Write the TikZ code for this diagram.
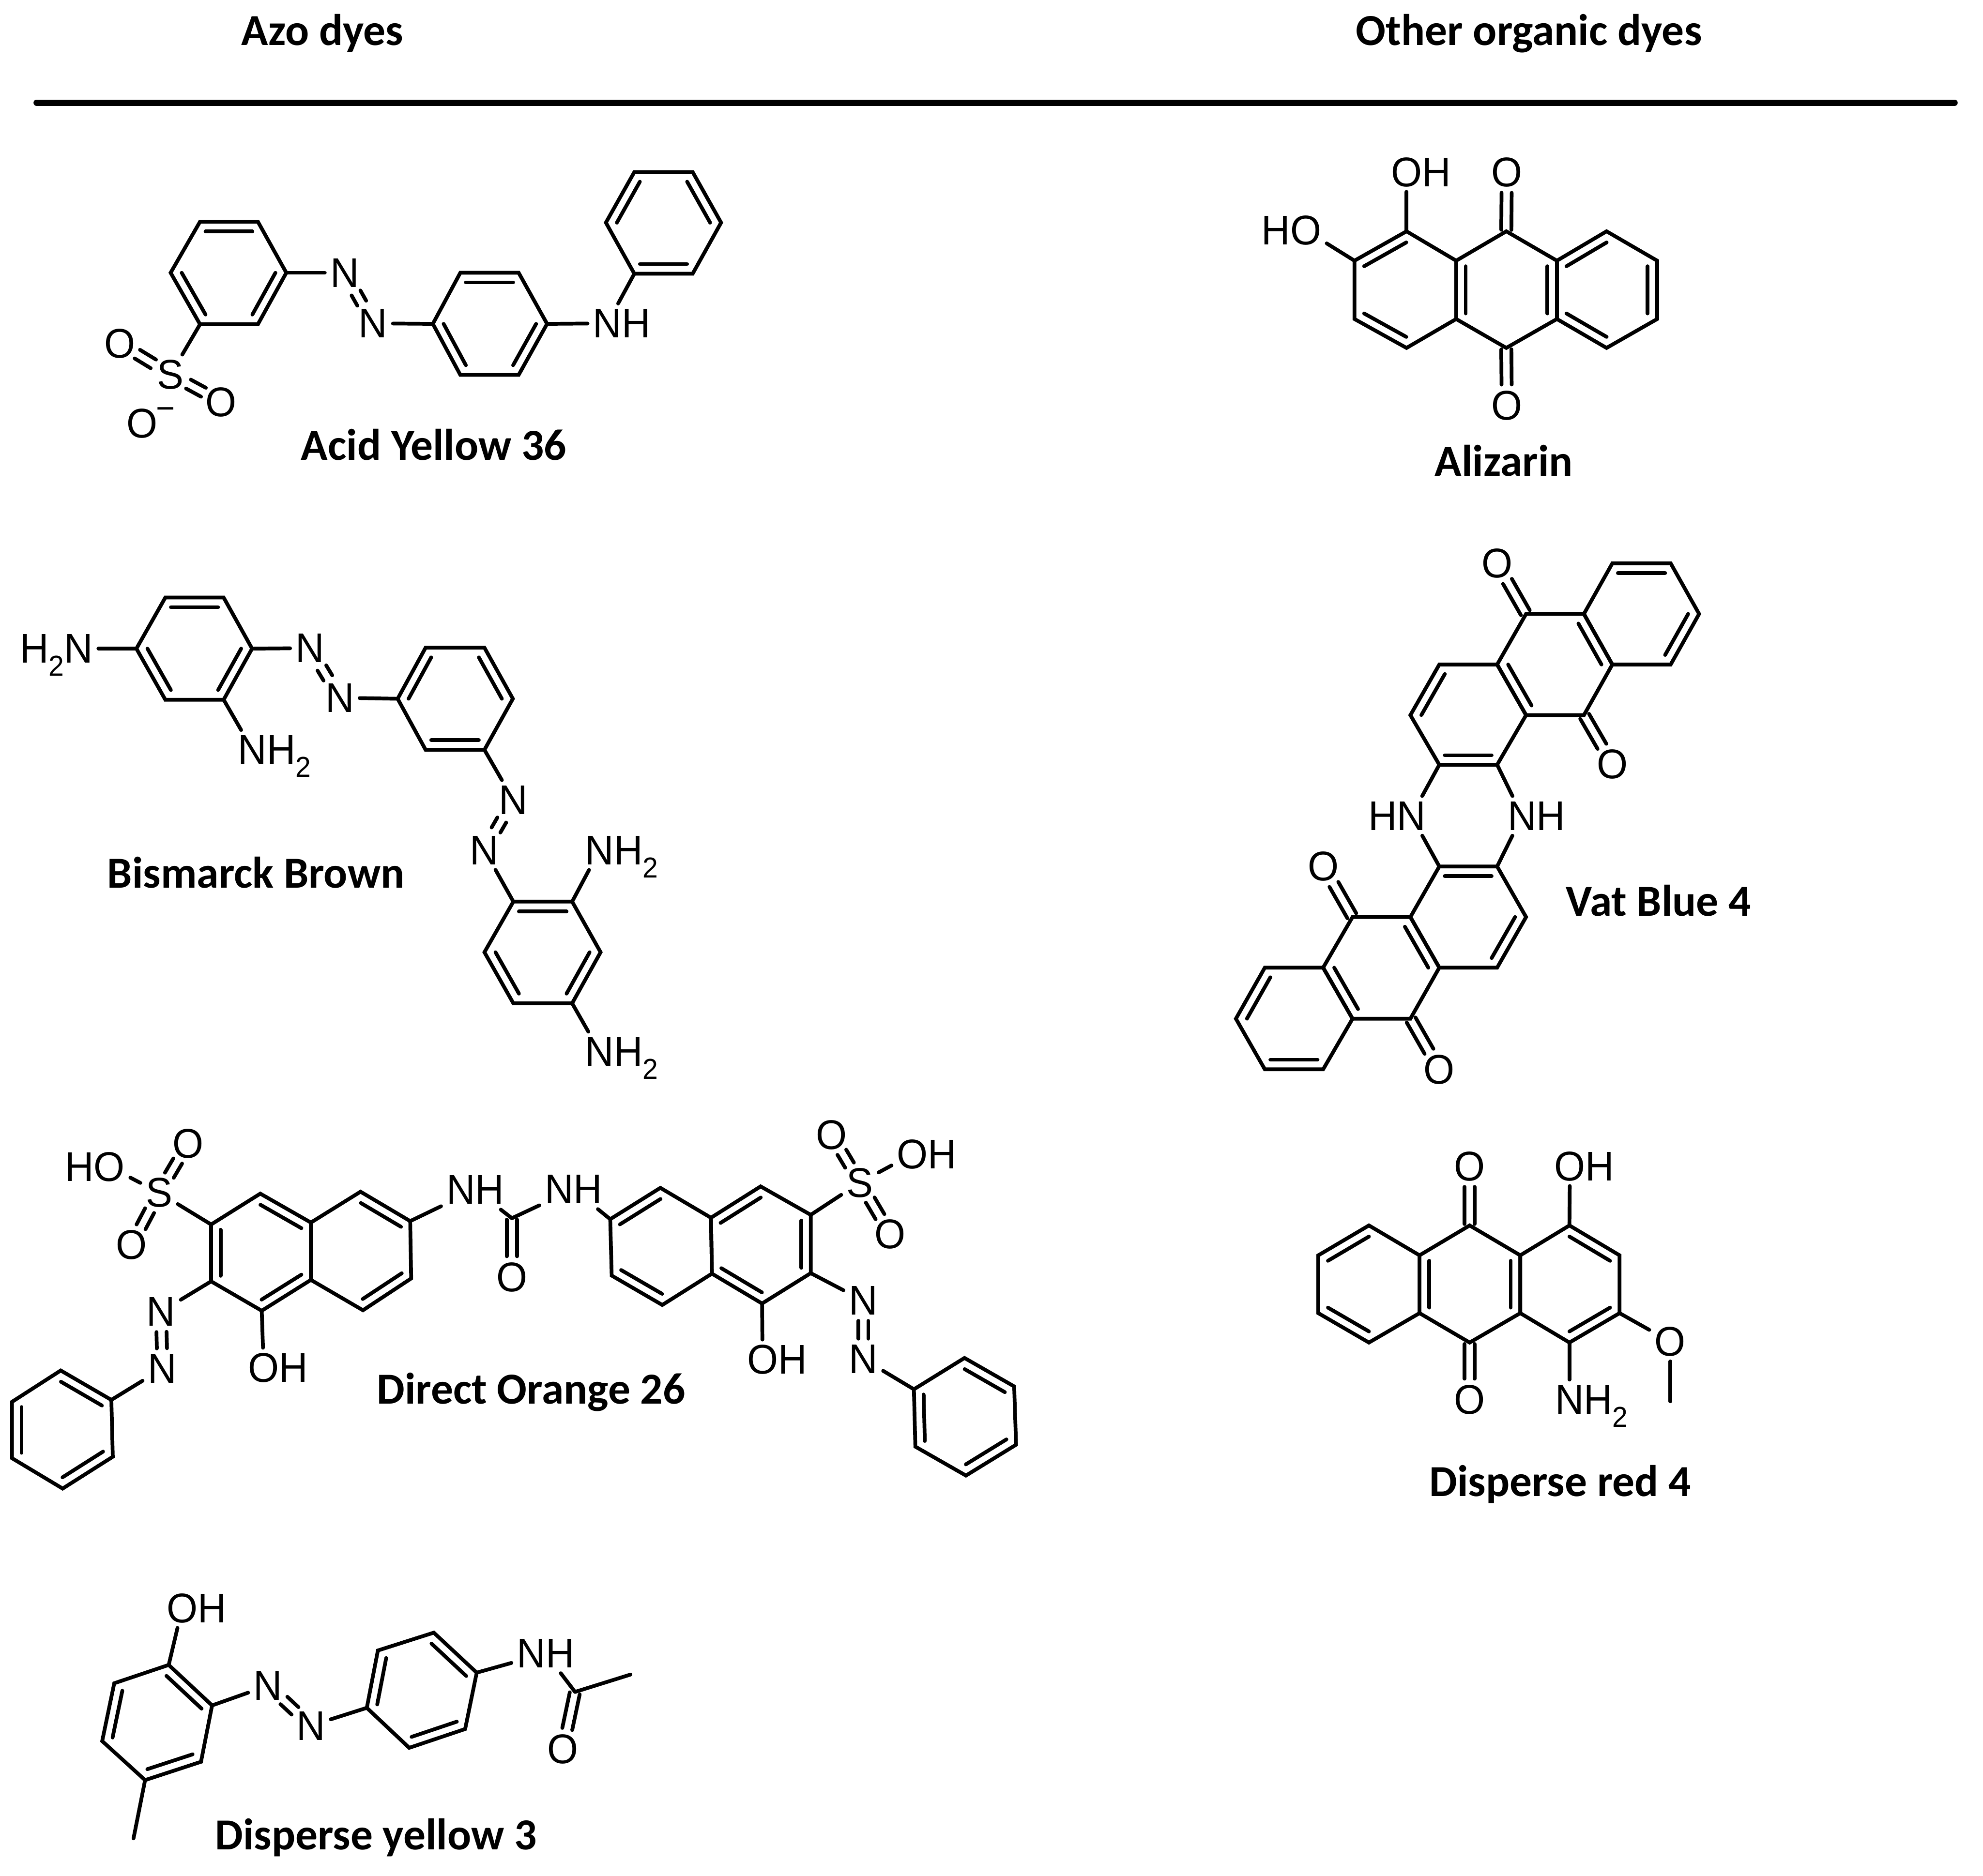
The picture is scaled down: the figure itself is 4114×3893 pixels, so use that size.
\documentclass[tikz,border=0pt]{standalone}
\usepackage{fontspec}
\setmainfont[FakeStretch=0.96]{Liberation Sans}
\newfontfamily\dyefont{Carlito}
\usetikzlibrary{calc}

\tikzset{
  bond/.style={line width=2.2pt, line cap=round},
  atom/.style={font=\fontsize{24.5}{24.5}\selectfont, inner sep=3pt, text height=17pt, text depth=0pt},
  dyename/.style={font=\dyefont\bfseries\fontsize{26.15}{26.15}\selectfont, inner sep=0pt, text height=17pt, text depth=0pt},
}

\newcommand{\subtwo}{\raisebox{-7.7pt}{\fontsize{17}{17}\selectfont 2}}

% six corners in order, opposite corners are 1/4
\newcommand{\ringat}[7]{
  \coordinate (#1-1) at (#2);
  \coordinate (#1-2) at (#3);
  \coordinate (#1-3) at (#4);
  \coordinate (#1-4) at (#5);
  \coordinate (#1-5) at (#6);
  \coordinate (#1-6) at (#7);
  \coordinate (#1-c) at ($(#1-1)!0.5!(#1-4)$);
  \draw[bond, line join=miter] (#1-1) -- (#1-2) -- (#1-3) -- (#1-4) -- (#1-5) -- (#1-6) -- cycle;
}
\newcommand{\innerbonds}[2]{
  \foreach \p/\q in {#2} {
    \draw[bond] ($(#1-\p)!0.19!(#1-c)$) -- ($(#1-\q)!0.19!(#1-c)$);
  }
}
\newcommand{\twinbond}[4]{
  \draw[bond] ($(#1)!#3!(#2)!1.05mm!90:(#2)$) -- ($(#2)!#4!(#1)!1.05mm!-90:(#1)$);
  \draw[bond] ($(#1)!#3!(#2)!1.05mm!-90:(#2)$) -- ($(#2)!#4!(#1)!1.05mm!90:(#1)$);
}

\begin{document}
\begin{tikzpicture}[x=0.01cm, y=-0.01cm]
  \useasboundingbox (0,0) rectangle (4114,3893);

  % Headings
  \node[dyename] (azohead) at (669,64) {Azo dyes};
  \node[dyename] (otherhead) at (3172,64) {Other organic dyes};
  \coordinate (ruleleft) at (76,213);
  \coordinate (ruleright) at (4055,213);
  \draw[line width=3.7pt, line cap=round] (ruleleft) -- (ruleright);

  % Acid Yellow 36
  \ringat{ay1}{415,460}{535,460}{594,566}{535,673}{415,673}{354,566}
  \ringat{ay2}{955,566}{1076,566}{1135,672}{1076,778}{955,778}{898,672}
  \ringat{ay3}{1316,357}{1437,357}{1496,462}{1437,568}{1316,568}{1257,462}
  \innerbonds{ay1}{1/2,3/4,5/6}
  \innerbonds{ay2}{1/2,3/4,5/6}
  \innerbonds{ay3}{6/1,2/3,4/5}
  \node[atom] (ay-n1) at (715,566) {N};
  \node[atom] (ay-n2) at (774,671) {N};
  \node[atom] (ay-nh) at (1260,671) {N\rlap{H}};
  \node[atom] (ay-s) at (354,777) {S};
  \node[atom] (ay-o1) at (249,713) {O};
  \node[atom] (ay-o2) at (459,834) {O};
  \node[atom] (ay-o3) at (295,879) {O};
  \node[font=\fontsize{20}{20}\selectfont, inner sep=0pt] (ay-minus) at (344,858) {−};
  \foreach \a/\b in {ay1-3/ay-n1, ay-n2/ay2-6, ay2-3/ay-nh, ay-nh/ay3-5, ay1-5/ay-s} {
    \draw[bond] (\a) -- (\b);
  }
  \twinbond{ay-n1}{ay-n2}{.48cm}{.48cm}
  \twinbond{ay-s}{ay-o1}{.42cm}{.42cm}
  \twinbond{ay-s}{ay-o2}{.42cm}{.42cm}
  \node[dyename] (ay-name) at (900,925) {Acid Yellow 36};

  % Bismarck Brown
  \ringat{bb1}{343,1240}{464,1240}{523,1346}{464,1452}{343,1452}{283,1346}
  \ringat{bb2}{883,1344}{1005,1344}{1064,1450}{1005,1556}{883,1556}{825,1450}
  \ringat{bb3}{1065,1871}{1187,1871}{1246,1976}{1187,2082}{1065,2082}{1005,1976}
  \innerbonds{bb1}{1/2,3/4,5/6}
  \innerbonds{bb2}{6/1,2/3,4/5}
  \innerbonds{bb3}{1/2,3/4,5/6}
  \node[atom] (bb-na) at (163,1346) {\llap{H\subtwo}N};
  \node[atom] (bb-nb) at (524,1556) {N\rlap{H\subtwo}};
  \node[atom] (bb-n1) at (643,1345) {N};
  \node[atom] (bb-n2) at (705,1448) {N};
  \node[atom] (bb-n3) at (1065,1660) {N};
  \node[atom] (bb-n4) at (1005,1764) {N};
  \node[atom] (bb-nc) at (1244,1764) {N\rlap{H\subtwo}};
  \node[atom] (bb-nd) at (1244,2182) {N\rlap{H\subtwo}};
  \foreach \a/\b in {bb1-6/bb-na, bb1-4/bb-nb, bb1-3/bb-n1, bb-n2/bb2-6, bb2-4/bb-n3, bb-n4/bb3-1, bb3-2/bb-nc, bb3-4/bb-nd} {
    \draw[bond] (\a) -- (\b);
  }
  \twinbond{bb-n1}{bb-n2}{.48cm}{.48cm}
  \twinbond{bb-n3}{bb-n4}{.48cm}{.48cm}
  \node[dyename] (bb-name) at (531,1813) {Bismarck Brown};

  % Direct Orange 26
  \ringat{do1}{540,2477}{645,2537}{645,2656}{543,2720}{438,2659}{438,2541}
  \ringat{do2}{748,2473}{851,2534}{853,2653}{753,2719}{645,2656}{645,2537}
  \ringat{do3}{126,2844}{231,2905}{234,3023}{130,3089}{25,3026}{25,2909}
  \ringat{do4}{1370,2465}{1475,2527}{1477,2643}{1374,2708}{1269,2647}{1266,2530}
  \ringat{do5}{1578,2462}{1682,2521}{1682,2642}{1581,2705}{1477,2643}{1475,2527}
  \ringat{do6}{2001,2818}{2104,2877}{2108,2998}{2004,3062}{1899,3002}{1896,2883}
  \innerbonds{do1}{1/2,3/4,5/6}
  \innerbonds{do2}{1/2,3/4}
  \innerbonds{do3}{1/2,3/4,5/6}
  \innerbonds{do4}{6/1,4/5}
  \innerbonds{do5}{6/1,2/3,4/5}
  \innerbonds{do6}{1/2,3/4,5/6}
  \coordinate (do-c) at (1062,2528);
  \node[atom] (do-s1) at (330,2475) {S};
  \node[atom] (do-oh1) at (227,2421) {\llap{H}O};
  \node[atom] (do-o1) at (390,2373) {O};
  \node[atom] (do-o2) at (273,2583) {O};
  \node[atom] (do-n1) at (334,2722) {N};
  \node[atom] (do-n2) at (337,2840) {N};
  \node[atom] (do-oh2) at (547,2838) {O\rlap{H}};
  \node[atom] (do-nh1) at (986,2469) {NH};
  \node[atom] (do-nh2) at (1190,2468) {NH};
  \node[atom] (do-o3) at (1062,2650) {O};
  \node[atom] (do-s2) at (1784,2454) {S};
  \node[atom] (do-o4) at (1725,2355) {O};
  \node[atom] (do-oh3) at (1893,2395) {O\rlap{H}};
  \node[atom] (do-o5) at (1847,2561) {O};
  \node[atom] (do-n3) at (1791,2699) {N};
  \node[atom] (do-n4) at (1791,2820) {N};
  \node[atom] (do-oh4) at (1582,2821) {O\rlap{H}};
  \foreach \a/\b in {do1-6/do-s1, do-s1/do-oh1, do1-5/do-n1, do-n2/do3-2, do1-4/do-oh2, do2-2/do-nh1, do-nh1/do-c, do-c/do-nh2, do-nh2/do4-6, do5-2/do-s2, do-s2/do-oh3, do5-3/do-n3, do-n4/do6-6, do5-4/do-oh4} {
    \draw[bond] (\a) -- (\b);
  }
  \twinbond{do-s1}{do-o1}{.42cm}{.42cm}
  \twinbond{do-s1}{do-o2}{.42cm}{.42cm}
  \twinbond{do-n1}{do-n2}{.42cm}{.42cm}
  \twinbond{do-c}{do-o3}{.03cm}{.43cm}
  \twinbond{do-s2}{do-o4}{.42cm}{.42cm}
  \twinbond{do-s2}{do-o5}{.42cm}{.42cm}
  \twinbond{do-n3}{do-n4}{.42cm}{.42cm}
  \node[dyename] (do-name) at (1102,2883) {Direct Orange 26};

  % Disperse yellow 3
  \ringat{dy1}{350,3455}{440,3539}{417,3656}{301,3694}{212,3613}{237,3493}
  \ringat{dy2}{900,3388}{989,3471}{965,3588}{849,3627}{761,3544}{784,3425}
  \innerbonds{dy1}{1/2,3/4,5/6}
  \innerbonds{dy2}{1/2,3/4,5/6}
  \coordinate (dy-me1) at (277,3815);
  \coordinate (dy-c) at (1193,3511);
  \coordinate (dy-me2) at (1308,3475);
  \node[atom] (dy-oh) at (378,3337) {O\rlap{H}};
  \node[atom] (dy-n1) at (556,3498) {N};
  \node[atom] (dy-n2) at (645,3581) {N};
  \node[atom] (dy-nh) at (1132,3431) {NH};
  \node[atom] (dy-o) at (1168,3630) {O};
  \foreach \a/\b in {dy1-1/dy-oh, dy1-4/dy-me1, dy1-2/dy-n1, dy-n2/dy2-5, dy2-2/dy-nh, dy-nh/dy-c, dy-c/dy-me2} {
    \draw[bond] (\a) -- (\b);
  }
  \twinbond{dy-n1}{dy-n2}{.45cm}{.45cm}
  \twinbond{dy-c}{dy-o}{.03cm}{.43cm}
  \node[dyename] (dy-name) at (780,3808) {Disperse yellow 3};

  % Alizarin
  \ringat{al1}{2810,541}{2918,480}{3021,541}{3021,662}{2918,722}{2810,662}
  \ringat{al2}{3021,541}{3125,480}{3230,541}{3230,662}{3125,722}{3021,662}
  \ringat{al3}{3230,541}{3333,480}{3438,541}{3438,662}{3333,722}{3230,662}
  \innerbonds{al1}{1/2,5/6}
  \innerbonds{al2}{3/4,6/1}
  \innerbonds{al3}{1/2,3/4,5/6}
  \node[atom] (al-oh1) at (2918,357) {O\rlap{H}};
  \node[atom] (al-oh2) at (2709,478) {\llap{H}O};
  \node[atom] (al-o1) at (3126,357) {O};
  \node[atom] (al-o2) at (3126,841) {O};
  \foreach \a/\b in {al1-2/al-oh1, al1-1/al-oh2} {
    \draw[bond] (\a) -- (\b);
  }
  \twinbond{al2-2}{al-o1}{.03cm}{.43cm}
  \twinbond{al2-5}{al-o2}{.03cm}{.43cm}
  \node[dyename] (al-name) at (3120,958) {Alizarin};

  % Vat Blue 4
  \ringat{vb1}{3345,1169}{3466,1169}{3525,1274}{3466,1379}{3345,1379}{3286,1274}
  \ringat{vb2}{3166,1274}{3286,1274}{3345,1379}{3286,1484}{3166,1484}{3106,1379}
  \ringat{vb3}{2986,1379}{3106,1379}{3166,1484}{3106,1587}{2986,1587}{2926,1484}
  \ringat{vb4}{2986,1798}{3106,1798}{3166,1903}{3106,2008}{2986,2008}{2926,1903}
  \ringat{vb5}{2806,1903}{2926,1903}{2986,2008}{2926,2114}{2806,2114}{2745,2008}
  \ringat{vb6}{2624,2008}{2745,2008}{2806,2114}{2745,2219}{2624,2219}{2564,2114}
  \innerbonds{vb1}{1/2,3/4}
  \innerbonds{vb2}{2/3,5/6}
  \innerbonds{vb3}{6/1,4/5}
  \innerbonds{vb4}{1/2,3/4}
  \innerbonds{vb5}{2/3,5/6}
  \innerbonds{vb6}{6/1,4/5}
  \node[atom] (vb-o1) at (3106,1169) {O};
  \node[atom] (vb-o2) at (3345,1586) {O};
  \node[atom] (vb-nh1) at (2928,1693) {\llap{H}N};
  \node[atom] (vb-nh2) at (3158,1693) {N\rlap{H}};
  \node[atom] (vb-o3) at (2746,1798) {O};
  \node[atom] (vb-o4) at (2986,2219) {O};
  \foreach \a/\b in {vb3-5/vb-nh1, vb3-4/vb-nh2, vb4-1/vb-nh1, vb4-2/vb-nh2} {
    \draw[bond] (\a) -- (\b);
  }
  \twinbond{vb2-1}{vb-o1}{.03cm}{.43cm}
  \twinbond{vb2-4}{vb-o2}{.03cm}{.43cm}
  \twinbond{vb5-1}{vb-o3}{.03cm}{.43cm}
  \twinbond{vb5-4}{vb-o4}{.03cm}{.43cm}
  \node[dyename] (vb-name) at (3441,1871) {Vat Blue 4};

  % Disperse red 4
  \ringat{dr1}{2840,2543}{2945,2605}{2945,2725}{2840,2786}{2735,2725}{2735,2605}
  \ringat{dr2}{3049,2543}{3154,2605}{3154,2725}{3049,2786}{2945,2725}{2945,2605}
  \ringat{dr3}{3256,2543}{3360,2605}{3360,2725}{3256,2786}{3154,2725}{3154,2605}
  \innerbonds{dr1}{6/1,4/5}
  \innerbonds{dr2}{2/3,5/6}
  \innerbonds{dr3}{1/2,3/4}
  \coordinate (dr-me) at (3465,2908);
  \node[atom] (dr-o1) at (3049,2420) {O};
  \node[atom] (dr-o2) at (3049,2904) {O};
  \node[atom] (dr-oh) at (3257,2420) {O\rlap{H}};
  \node[atom] (dr-nh) at (3256,2904) {N\rlap{H\subtwo}};
  \node[atom] (dr-o3) at (3465,2784) {O};
  \foreach \a/\b in {dr3-1/dr-oh, dr3-4/dr-nh, dr3-3/dr-o3, dr-o3/dr-me} {
    \draw[bond] (\a) -- (\b);
  }
  \twinbond{dr2-1}{dr-o1}{.03cm}{.43cm}
  \twinbond{dr2-4}{dr-o2}{.03cm}{.43cm}
  \node[dyename] (dr-name) at (3237,3075) {Disperse red 4};

\end{tikzpicture}
\end{document}
